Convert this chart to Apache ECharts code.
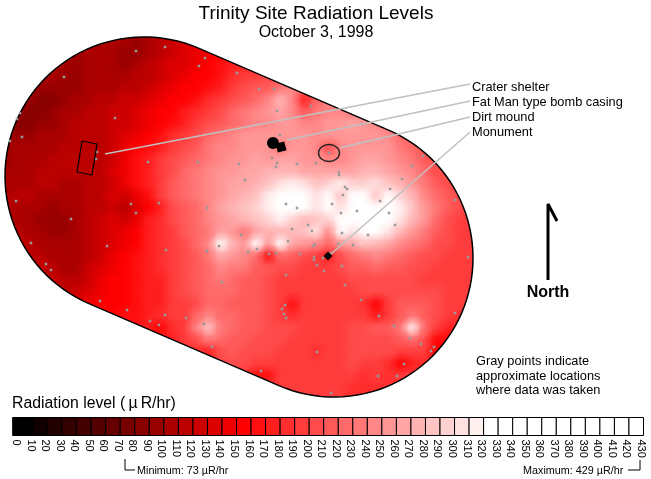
<!DOCTYPE html>
<html>
<head>
<meta charset="utf-8">
<title>Trinity Site Radiation Levels</title>
<script src="https://cdn.jsdelivr.net/npm/echarts@6/dist/echarts.min.js"></script>
<style>
  html, body { margin: 0; padding: 0; background: #fff; }
  #chart { width: 651px; height: 479px; }
</style>
</head>
<body>
<div id="chart"></div>
<script>
// radiation readings (uR/hr) sampled off the map, one row every 12px, one column every 12px
const cellSize = 12;
const rowY = [42,54,66,78,90,102,114,126,138,150,162,174,186,198,210,222,234,246,258,270,282,294,306,318,330,342,354,366,378,390];
const rowStartX = [90,66,54,42,30,18,6,6,6,6,6,6,6,6,6,6,18,18,30,42,42,66,78,102,138,162,186,222,246,270];
const rowValues = [
  [105,105,102,100,98,105,115,125,135,140],
  [102,100,102,102,100,95,92,105,114,124,132,140,148,155],
  [104,102,98,102,104,100,95,102,110,120,130,138,146,152,160,170,175,182],
  [102,100,90,95,104,106,104,104,112,118,128,135,142,150,158,168,180,190,198,200,205],
  [104,95,92,90,98,106,108,108,112,118,126,132,142,150,156,165,178,190,200,210,218,235,240,215],
  [98,90,88,88,92,102,108,112,116,120,126,134,142,150,158,168,180,192,205,215,225,245,275,240,175,222,235,245],
  [105,92,88,85,90,100,108,112,116,120,126,134,142,150,158,170,182,195,208,220,232,240,250,262,245,210,232,240,245,235,240],
  [95,88,85,90,96,105,110,112,116,122,128,138,148,155,165,178,192,205,218,228,235,240,245,252,250,245,245,250,258,262,258,240,235],
  [100,92,96,100,104,108,110,112,116,124,134,148,155,168,180,195,208,220,232,242,250,255,258,258,255,250,248,252,256,258,256,254,245,225,215],
  [98,100,102,106,108,110,110,110,116,128,140,152,165,178,190,205,218,230,240,248,252,255,255,238,252,250,245,205,240,255,258,258,250,235,222,205],
  [98,102,105,108,110,110,112,112,116,128,145,165,178,190,205,215,225,238,245,252,258,262,255,265,265,258,252,240,245,255,262,265,258,245,230,215,205],
  [102,105,108,110,110,110,110,110,116,132,148,165,172,190,208,222,235,245,252,258,265,268,272,275,272,265,265,262,265,268,272,272,268,255,240,222,208,200],
  [105,108,108,110,110,108,108,110,118,128,145,165,175,195,215,228,238,245,255,262,268,275,288,305,310,300,282,295,315,290,295,300,285,272,255,235,218,205,198],
  [108,110,110,108,106,105,108,110,115,130,122,148,168,190,210,225,235,242,258,266,274,285,310,340,345,340,300,340,280,335,335,280,325,295,275,245,225,210,200],
  [110,108,102,100,98,100,105,110,116,128,110,136,155,170,205,215,228,245,262,270,280,295,310,340,345,335,305,345,305,345,350,345,335,315,285,255,230,212,200,195],
  [115,108,102,98,96,98,104,112,120,135,128,148,170,185,200,212,225,240,258,262,270,280,295,310,295,275,280,290,320,335,345,345,330,305,275,250,225,208,198,195],
  [115,108,102,98,98,104,110,120,130,142,155,172,185,198,210,222,235,268,255,235,262,270,272,272,285,300,240,330,305,340,340,305,275,255,235,218,205,198,195],
  [120,115,108,102,100,104,112,122,135,145,155,170,182,196,208,220,240,325,270,258,320,250,320,265,255,240,225,250,262,280,278,262,248,232,220,208,200,195,195],
  [115,115,108,100,104,116,128,140,150,160,170,182,192,205,215,232,262,258,245,225,165,225,210,205,195,170,205,225,238,240,235,225,215,208,200,195,195,195],
  [120,115,108,108,120,135,148,155,162,172,180,190,200,212,225,245,235,230,218,210,205,200,198,192,190,205,210,218,222,218,212,205,200,197,195,195,195],
  [118,120,112,112,128,142,152,155,160,170,178,190,200,212,222,232,225,218,212,205,198,198,198,195,195,195,200,205,205,208,205,202,198,195,195,195,195],
  [115,120,132,148,155,152,160,170,178,190,200,210,222,225,222,215,210,205,198,198,198,195,195,195,198,200,200,205,208,208,205,200,195,192,192],
  [135,140,150,155,152,162,172,178,190,198,208,220,222,218,215,210,205,195,160,195,195,195,195,192,185,150,192,210,215,210,202,195,190],
  [150,155,160,165,172,185,190,195,225,240,228,222,215,210,205,195,180,195,192,192,192,195,192,178,195,215,235,218,205,192,185],
  [165,170,150,185,198,240,285,232,222,215,210,205,205,200,195,192,192,195,200,205,210,215,235,310,225,195,178],
  [170,175,190,205,235,225,218,210,205,205,200,195,195,195,195,195,200,205,205,208,215,225,200,150,165],
  [180,185,172,205,210,205,205,205,195,195,195,188,195,198,200,205,205,200,190,195,190,155],
  [205,205,200,198,195,195,195,195,195,195,198,200,195,195,185,155,178,185],
  [182,165,160,190,195,195,195,195,195,190,185,190,185,190,190],
  [195,195,195,195,195,190,190,185,185,185,185]
];

// gray survey points
const surveyPoints = [
  [136,51],[165,47],[205,58],[199,66],[237,73],[64,77],[20,113],[17,119],[115,118],[22,137],[10,141],[97,152],[96,159],
  [148,162],[198,162],[239,164],[16,201],[131,204],[159,203],[207,208],[136,213],[71,219],[31,243],[107,246],[166,250],
  [207,251],[219,246],[46,264],[51,270],[222,282],[100,301],[127,310],[165,315],[186,318],[150,321],[159,325],[204,324],
  [212,347],[259,89],[274,89],[277,111],[311,106],[280,135],[362,124],[423,156],[412,166],[402,179],[329,153],[316,163],
  [297,164],[272,158],[277,163],[276,167],[245,180],[339,172],[339,175],[390,189],[345,187],[347,189],[343,195],[380,201],
  [455,200],[286,204],[297,208],[332,204],[357,211],[341,213],[389,213],[241,235],[292,229],[308,225],[312,231],[395,225],
  [342,233],[368,235],[288,241],[315,244],[313,246],[338,244],[353,245],[257,249],[248,252],[269,254],[276,253],[300,254],
  [314,257],[314,260],[323,258],[330,253],[317,265],[342,266],[324,271],[286,275],[468,257],[345,285],[361,300],[285,305],
  [282,309],[284,314],[286,318],[379,316],[455,313],[394,326],[410,338],[421,344],[434,347],[431,351],[317,352],[261,371],
  [404,364],[378,376],[397,376],[331,393]
];

// leader lines from the landmarks to their labels
const leaderLines = [
  [[105,154],[470,84]],
  [[287,140],[470,101]],
  [[340,148],[470,117]],
  [[331,254],[470,132]]
];
const shelterOutline = [[82,141],[97,144],[92,175],[77,172],[82,141]];
const northArrow = [[557,221],[548,204],[548,280]];
const minBracket = [[125,459],[125,470],[135,470]];
const maxBracket = [[628,470],[640,470],[640,460]];

// colour bar
const legendLevels = [0,10,20,30,40,50,60,70,80,90,100,110,120,130,140,150,160,170,180,190,200,210,220,230,240,250,260,270,280,290,300,310,320,330,340,350,360,370,380,390,400,410,420];

// black to red to white, one step per 10 uR/hr
function levelRgb(v) {
  const b = Math.floor(v / 10) * 10;
  const r = Math.min(255, Math.round(255 * b / 150));
  const gb = b <= 150 ? 0 : Math.min(255, Math.round(255 * (b - 150) / 170));
  return r + ',' + gb + ',' + gb;
}
function levelColor(v, alpha) {
  return 'rgba(' + levelRgb(v) + ',' + (alpha === undefined ? 1 : alpha) + ')';
}

// site boundary: two half circles joined by straight edges
function boundaryPoints() {
  const pts = [];
  const r = 139;
  const tilt = Math.atan2(82, 190);
  for (let i = 0; i <= 60; i++) {
    const a = tilt - Math.PI / 2 + Math.PI * i / 60;
    pts.push([334 + r * Math.cos(a), 258 + r * Math.sin(a)]);
  }
  for (let i = 0; i <= 60; i++) {
    const a = tilt + Math.PI / 2 + Math.PI * i / 60;
    pts.push([144 + r * Math.cos(a), 176 + r * Math.sin(a)]);
  }
  return pts;
}
const boundary = boundaryPoints();

let fieldCells = [];
rowValues.forEach(function (vals, j) {
  vals.forEach(function (v, i) {
    fieldCells.push([rowStartX[j] + i * cellSize, rowY[j], v]);
  });
});

let chart = echarts.init(document.getElementById('chart'), null, { renderer: 'canvas' });

function lineSeries(points, color, width, z) {
  return {
    type: 'line', xAxisIndex: 0, yAxisIndex: 0, data: points, symbol: 'none', silent: true, z: z,
    lineStyle: { color: color, width: width }
  };
}

function pageText(text, x, y, size, align, weight) {
  return {
    type: 'text', x: x, y: y, silent: true,
    style: {
      text: text, fill: '#000', align: align || 'left', verticalAlign: 'middle',
      font: (weight || 'normal') + ' ' + size + 'px "Liberation Sans", Arial, sans-serif'
    }
  };
}

let series = [
  {
    // readings on the map, flat cells first
    type: 'custom', xAxisIndex: 0, yAxisIndex: 0, data: fieldCells, z: 1, silent: true,
    renderItem: function (params, api) {
      const c = api.coord([api.value(0), api.value(1)]);
      return {
        type: 'rect',
        shape: { x: c[0] - cellSize / 2 - 0.5, y: c[1] - cellSize / 2 - 0.5, width: cellSize + 1, height: cellSize + 1 },
        style: { fill: levelColor(api.value(2)) },
        clipPath: { type: 'polygon', shape: { points: boundary } }
      };
    }
  },
  {
    // same readings again as soft discs so the cell edges melt together
    type: 'custom', xAxisIndex: 0, yAxisIndex: 0, data: fieldCells, z: 1.5, silent: true,
    renderItem: function (params, api) {
      const c = api.coord([api.value(0), api.value(1)]);
      const v = api.value(2);
      return {
        type: 'circle',
        shape: { cx: c[0], cy: c[1], r: 15 },
        style: {
          fill: new echarts.graphic.RadialGradient(0.5, 0.5, 0.5, [
            { offset: 0, color: levelColor(v, 0.85) },
            { offset: 0.4, color: levelColor(v, 0.55) },
            { offset: 1, color: levelColor(v, 0) }
          ])
        },
        clipPath: { type: 'polygon', shape: { points: boundary } }
      };
    }
  },
  {
    // boundary outline
    type: 'custom', xAxisIndex: 0, yAxisIndex: 0, data: [[0, 0]], z: 2, silent: true,
    renderItem: function (params, api) {
      return {
        type: 'polygon',
        shape: { points: boundary.map(function (p) { return api.coord(p); }) },
        style: { fill: 'none', stroke: '#000', lineWidth: 1.5 }
      };
    }
  },
  {
    type: 'scatter', xAxisIndex: 0, yAxisIndex: 0, data: surveyPoints, symbol: 'rect', symbolSize: 2.5, z: 3, silent: true,
    itemStyle: { color: '#999', opacity: 1 }
  }
];

leaderLines.forEach(function (l) { series.push(lineSeries(l, '#c0c0c0', 1.5, 4)); });
series.push(lineSeries(shelterOutline, '#000', 1.2, 5));
series.push(lineSeries(northArrow, '#000', 3, 5));
series.push(lineSeries(minBracket, '#000', 1, 5));
series.push(lineSeries(maxBracket, '#000', 1, 5));

series.push({
  // landmarks: bomb casing, monument
  type: 'scatter', xAxisIndex: 0, yAxisIndex: 0, z: 6, silent: true,
  data: [
    { value: [273, 143], symbol: 'circle', symbolSize: 12 },
    { value: [281, 147], symbol: 'rect', symbolSize: 9, symbolRotate: 15 },
    { value: [328, 256], symbol: 'diamond', symbolSize: 9 }
  ],
  itemStyle: { color: '#000', opacity: 1 }
});
series.push({
  // dirt mound
  type: 'custom', xAxisIndex: 0, yAxisIndex: 0, data: [[329, 153]], z: 6, silent: true,
  renderItem: function (params, api) {
    const c = api.coord([api.value(0), api.value(1)]);
    return {
      type: 'ellipse',
      shape: { cx: c[0], cy: c[1], rx: 10.5, ry: 8.5 },
      style: { fill: 'none', stroke: '#222', lineWidth: 1.4 }
    };
  }
});
series.push({
  // colour bar swatches
  type: 'custom', xAxisIndex: 1, yAxisIndex: 1, data: legendLevels.map(function (v) { return [v]; }), z: 2, silent: true,
  renderItem: function (params, api) {
    const v = api.value(0);
    const a = api.coord([v === 0 ? -4 : v, 1]);
    const b = api.coord([v + 10, 0]);
    return {
      type: 'rect',
      shape: { x: a[0] + 2.5, y: a[1], width: b[0] - a[0], height: b[1] - a[1] },
      style: { fill: levelColor(v), stroke: '#000', lineWidth: 1 }
    };
  }
});

let option = {
  animation: false,
  backgroundColor: '#fff',
  grid: [
    { left: 0, top: 0, width: 651, height: 479 },
    { left: 16, top: 417.5, width: 625, height: 18 }
  ],
  xAxis: [
    { type: 'value', gridIndex: 0, min: 0, max: 651, show: false },
    {
      type: 'value', gridIndex: 1, min: 0, max: 430, interval: 10,
      splitLine: { show: false }, axisLine: { show: false }, axisTick: { show: false },
      axisLabel: {
        rotate: -90, margin: 4, color: '#000', fontSize: 11, hideOverlap: false,
        fontFamily: '"Liberation Sans", Arial, sans-serif'
      }
    }
  ],
  yAxis: [
    { type: 'value', gridIndex: 0, min: 0, max: 479, inverse: true, show: false },
    { type: 'value', gridIndex: 1, min: 0, max: 1, show: false }
  ],
  series: series,
  graphic: [
    pageText('Trinity Site Radiation Levels', 316, 14, 19, 'center'),
    pageText('October 3, 1998', 316, 33, 16, 'center'),
    pageText('Crater shelter', 472, 87, 12.8),
    pageText('Fat Man type bomb casing', 472, 102, 12.8),
    pageText('Dirt mound', 472, 117, 12.8),
    pageText('Monument', 472, 132, 12.8),
    pageText('North', 548, 293, 16, 'center', 'bold'),
    pageText('Gray points indicate', 476, 361, 12.8),
    pageText('approximate locations', 476, 376, 12.8),
    pageText('where data was taken', 476, 390, 12.8),
    pageText('Radiation level (\u2009µ\u2009R/hr)', 12, 404, 15.8),
    pageText('Minimum: 73 µR/hr', 137, 471, 10.8),
    pageText('Maximum: 429 µR/hr', 523, 471, 10.8)
  ]
};

chart.setOption(option);
window.addEventListener('resize', chart.resize);
</script>
</body>
</html>
